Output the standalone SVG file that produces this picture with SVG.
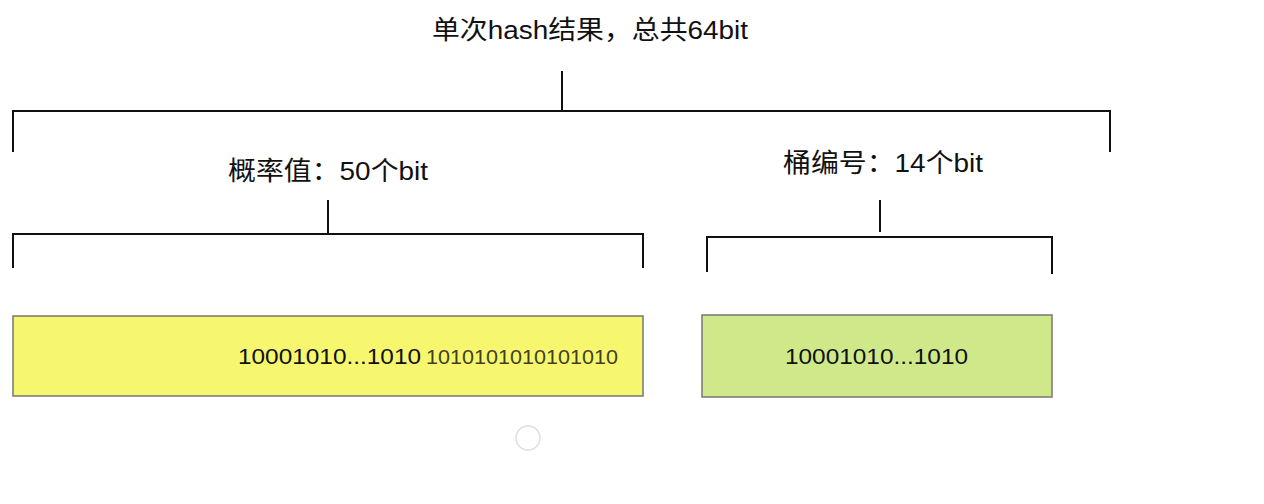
<svg xmlns="http://www.w3.org/2000/svg" width="1264" height="504" viewBox="0 0 1264 504">
<style>
.t{font-family:"Liberation Sans","Noto Sans CJK SC",sans-serif;fill:#111}
.ln{stroke:#111;stroke-width:2;fill:none}
.box{stroke:#777;stroke-width:1.5}
</style>
<rect width="1264" height="504" fill="#fff"/>
<g id="title"><text class="t" x="432" y="39" font-size="26" textLength="316" lengthAdjust="spacingAndGlyphs">单次hash结果，总共64bit</text></g>
<g id="label-prob"><text class="t" x="228" y="180" font-size="26" textLength="200" lengthAdjust="spacingAndGlyphs">概率值：50个bit</text></g>
<g id="label-bucket"><text class="t" x="783" y="172" font-size="26" textLength="200" lengthAdjust="spacingAndGlyphs">桶编号：14个bit</text></g>
<g id="connectors">
<path class="ln" d="M562 71V111M13 152V111H1110V152"/>
<path class="ln" d="M328 200V234M13 268V234H643V268"/>
<path class="ln" d="M880 200V232M707 272V237H1052V274"/>
</g>
<g id="box-prob">
<rect class="box" x="13" y="316" width="630" height="80" fill="#f7f76f"/>
<text class="t" x="238" y="364" font-size="22" textLength="183" lengthAdjust="spacingAndGlyphs">10001010...1010</text>
<text class="t" x="426" y="364" font-size="21" textLength="192" lengthAdjust="spacingAndGlyphs" fill="#444" opacity="0.8">1010101010101010</text>
</g>
<g id="box-bucket">
<rect class="box" x="702" y="315" width="350" height="82" fill="#cfe98a"/>
<text class="t" x="785" y="364" font-size="22" textLength="183" lengthAdjust="spacingAndGlyphs">10001010...1010</text>
</g>
<circle cx="528" cy="438" r="12" fill="none" stroke="#ddd" stroke-width="1.5"/>
</svg>
